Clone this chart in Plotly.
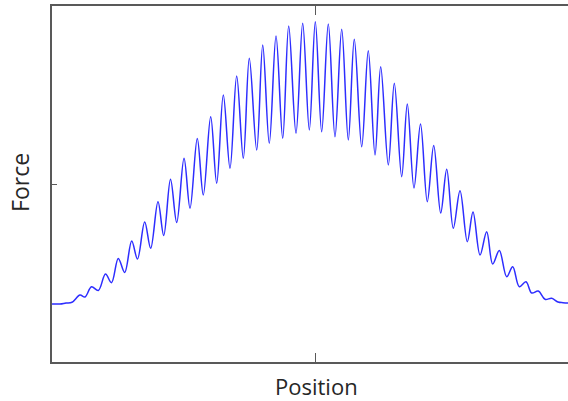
import plotly.graph_objects as go

# Position (0 = left axis, 0.5 = centre tick) and Force (0 = bottom, 1 = top)
position = [
    0.0, 0.0152, 0.0266, 0.038,
    0.0532, 0.0627, 0.0751, 0.088, 0.1017, 0.1131, 0.126, 0.1382, 0.1515, 0.1625,
    0.1762, 0.1876, 0.2015, 0.2124, 0.2253, 0.2371, 0.251, 0.2624, 0.2762, 0.2876,
    0.3017, 0.3131, 0.3257, 0.3384, 0.3511, 0.3637, 0.3751, 0.3892, 0.4006, 0.4131,
    0.4259, 0.4386, 0.45, 0.4639, 0.4766, 0.4892, 0.5006, 0.5127, 0.5253, 0.538,
    0.5508, 0.5633, 0.5747, 0.5888, 0.6013, 0.6141, 0.6249, 0.6394, 0.6508, 0.6648,
    0.6755, 0.6882, 0.7006, 0.7135, 0.7257, 0.739, 0.7504, 0.7629, 0.7757, 0.7896,
    0.8004, 0.8137, 0.8264, 0.8378, 0.8504, 0.8644, 0.8759, 0.8884, 0.9011, 0.912,
    0.9245, 0.9373, 0.95, 0.962, 0.9715, 0.981, 1.0,
]
force = [
    0.1629, 0.1629, 0.1657, 0.1677,
    0.1882, 0.1826, 0.2115, 0.2008, 0.2472, 0.2228, 0.2907, 0.2514, 0.3399, 0.2893,
    0.3933, 0.3194, 0.4503, 0.3553, 0.5132, 0.3919, 0.5725, 0.4317, 0.6278, 0.4691,
    0.689, 0.502, 0.75, 0.5441, 0.8034, 0.5722, 0.8531, 0.5955, 0.8904, 0.6143,
    0.9157, 0.6284, 0.9438, 0.6424, 0.9514, 0.6517, 0.9559, 0.6469, 0.9494, 0.6329,
    0.9346, 0.6236, 0.9065, 0.6048, 0.8744, 0.5815, 0.8295, 0.5534, 0.7829, 0.5205,
    0.7247, 0.4888, 0.6685, 0.4503, 0.6081, 0.4185, 0.5413, 0.3756, 0.4812, 0.3379,
    0.4213, 0.3006, 0.366, 0.2753, 0.3132, 0.2396, 0.2677, 0.2115, 0.2256, 0.1938,
    0.1994, 0.1761, 0.1789, 0.1685, 0.1666, 0.1657, 0.1657,
]

x_tick = [0.5]
y_tick = [0.5]
x_label = "Position"
y_label = "Force"

axis_color = "#595959"
text_color = "#262626"

fig = go.Figure()
fig.add_trace(go.Scatter(
    x=position, y=force, mode="lines",
    line=dict(color="rgb(45,45,255)", width=1.5, shape="spline", smoothing=1.0),
    hoverinfo="skip", showlegend=False,
))

fig.update_layout(
    width=578, height=401,
    margin=dict(l=52, r=0, t=6, b=39),
    paper_bgcolor="white", plot_bgcolor="white",
    xaxis=dict(range=[0, 1], showgrid=False, zeroline=False,
               showline=True, linecolor=axis_color, linewidth=2, mirror="ticks",
               ticks="inside", tickvals=x_tick, ticklen=9, tickwidth=1.3,
               tickcolor=axis_color, showticklabels=False),
    yaxis=dict(range=[0, 1], showgrid=False, zeroline=False,
               showline=True, linecolor=axis_color, linewidth=2, mirror=False,
               ticks="inside", tickvals=y_tick, ticklen=5, tickwidth=1.3,
               tickcolor=axis_color, showticklabels=False),
    annotations=[
        dict(text=x_label, xref="paper", yref="paper", x=0.502, y=-0.0680,
             xanchor="center", yanchor="middle", showarrow=False,
             borderpad=0,
             font=dict(family="Open Sans", size=22, color=text_color)),
        dict(text=y_label, xref="paper", yref="paper", x=-0.0608, y=0.503,
             xanchor="center", yanchor="middle", showarrow=False, textangle=-90,
             font=dict(family="Open Sans", size=23, color=text_color)),
    ],
)

fig.write_html(
    "out.html",
    config={"displayModeBar": False},
    post_script="document.body.style.margin='0';document.body.style.overflow='hidden';",
)
